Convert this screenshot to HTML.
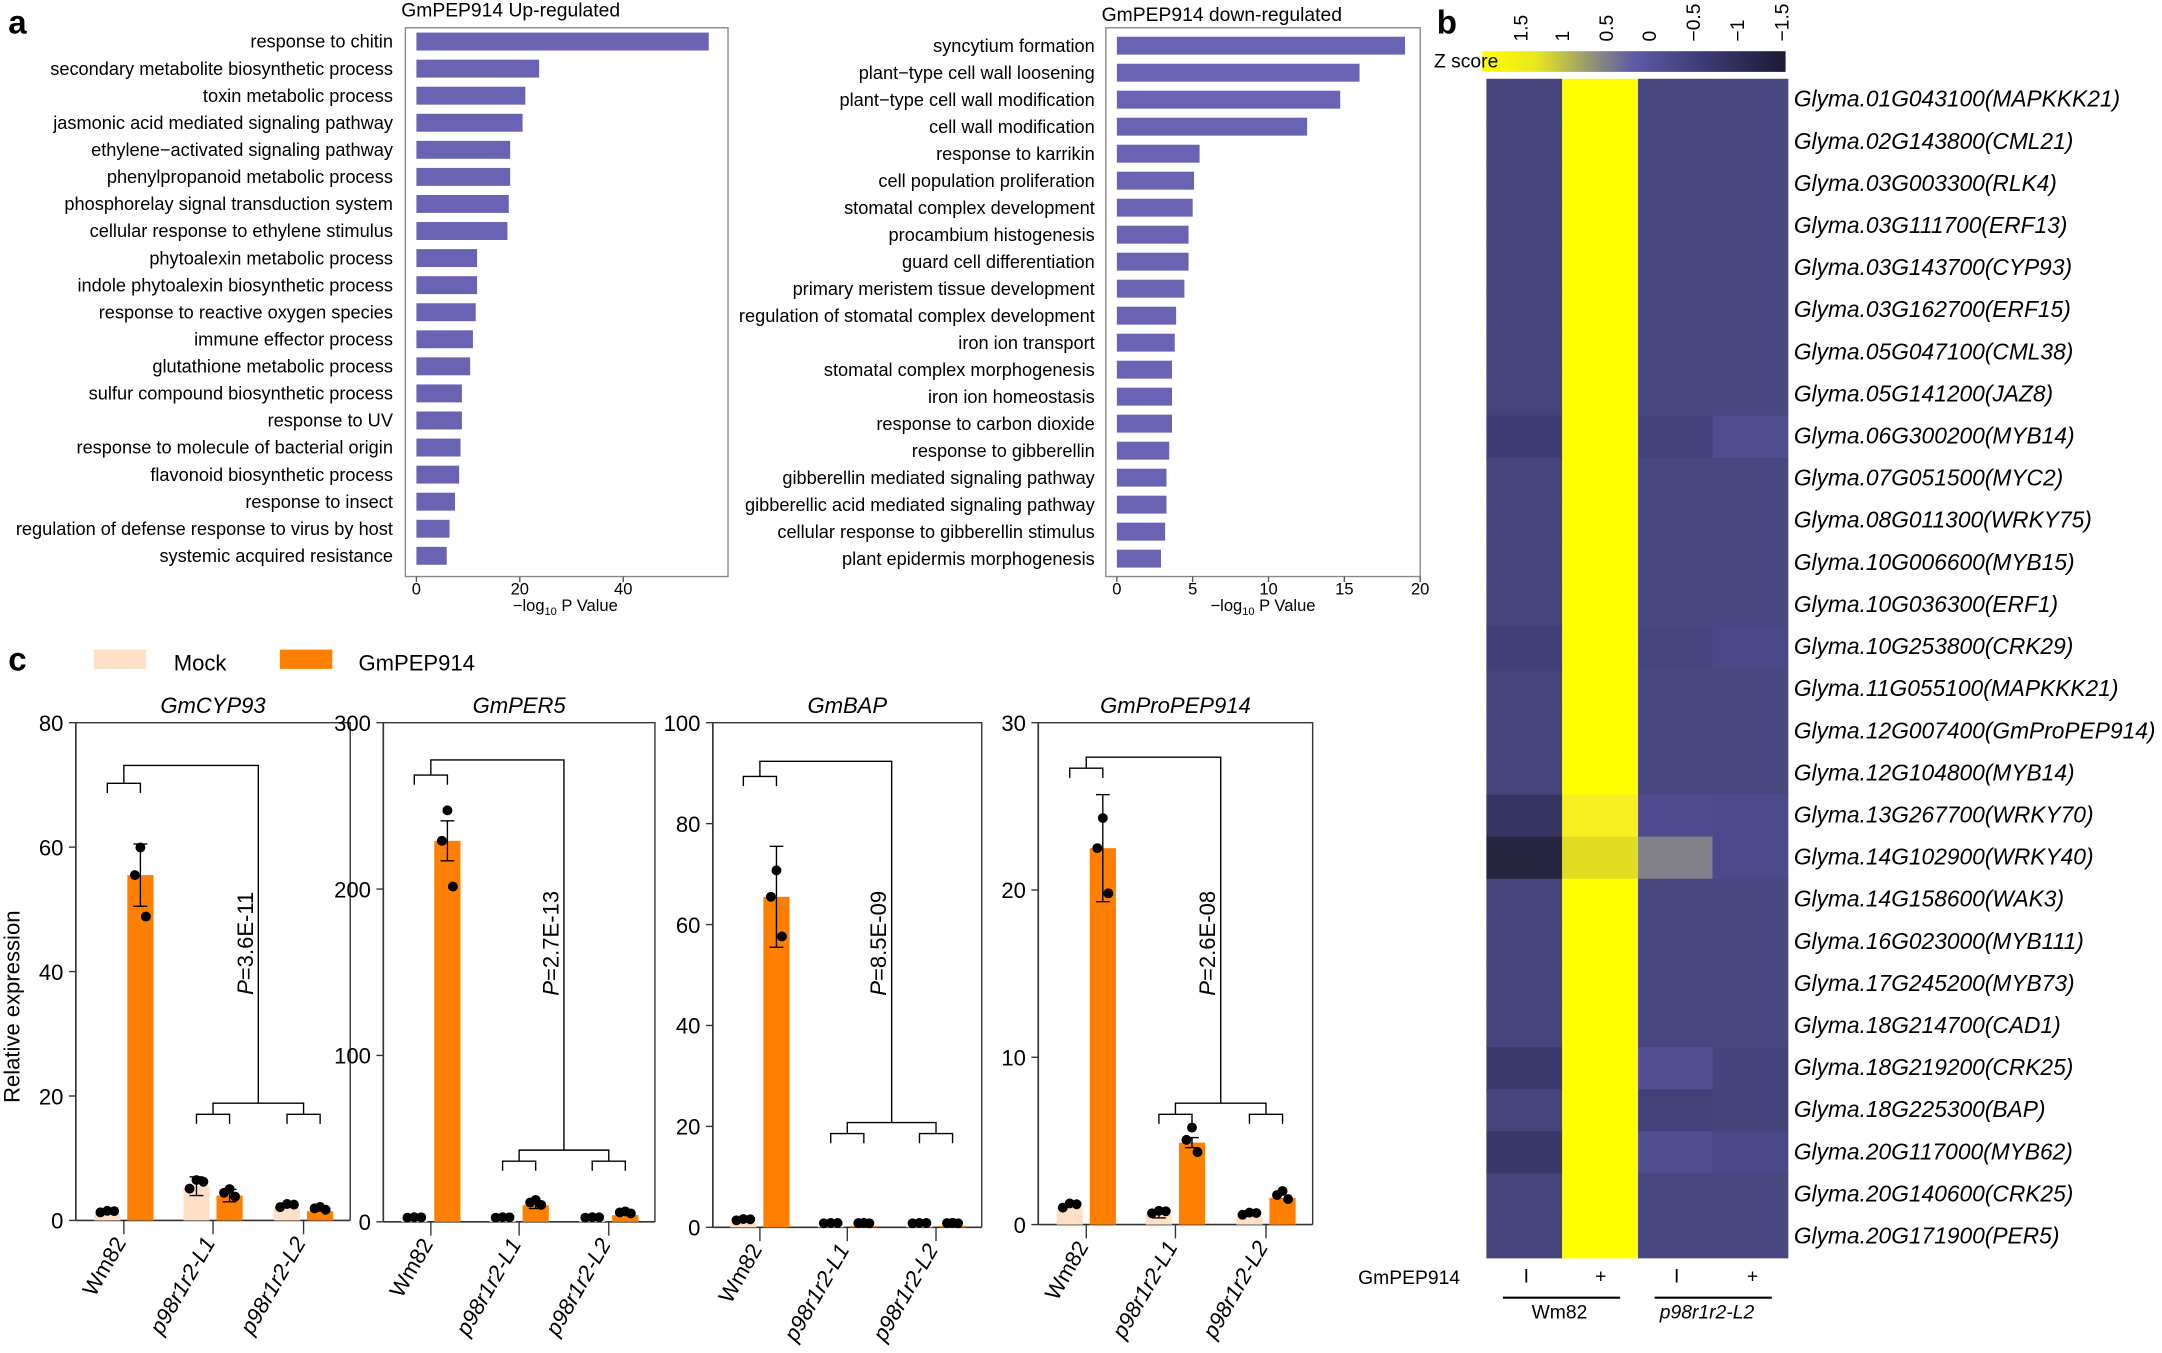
<!DOCTYPE html>
<html><head><meta charset="utf-8"><style>
html,body{margin:0;padding:0;background:#fff}
svg{display:block}
text{font-family:"Liberation Sans",Arial,sans-serif;fill:#000}
</style></head><body>
<svg id="s" width="2162" height="1353" viewBox="0 0 1568 981" xmlns="http://www.w3.org/2000/svg"></svg>
<script>
const s=document.getElementById('s');let h='';
function T(x,y,t,o){o=o||{};h+=`<text x="${x}" y="${y}" font-size="${o.fs||13}" text-anchor="${o.a||'start'}" ${o.it?'font-style="italic"':''} ${o.b?'font-weight="bold"':''} ${o.tr?`transform="${o.tr}"`:''}>${t}</text>`;}
function R(x,y,w,hh,c,st){h+=`<rect x="${x}" y="${y}" width="${w}" height="${hh}" fill="${c}" ${st||''}/>`;}
function L(x1,y1,x2,y2,c,w){h+=`<line x1="${x1}" y1="${y1}" x2="${x2}" y2="${y2}" stroke="${c||'#000'}" stroke-width="${w||1}"/>`;}
T(6,24,'a',{fs:24,b:1});T(1042,24,'b',{fs:24,b:1});T(6,486,'c',{fs:24,b:1});
const BC='#6a62b2';
const up=['response to chitin','secondary metabolite biosynthetic process','toxin metabolic process','jasmonic acid mediated signaling pathway','ethylene−activated signaling pathway','phenylpropanoid metabolic process','phosphorelay signal transduction system','cellular response to ethylene stimulus','phytoalexin metabolic process','indole phytoalexin biosynthetic process','response to reactive oxygen species','immune effector process','glutathione metabolic process','sulfur compound biosynthetic process','response to UV','response to molecule of bacterial origin','flavonoid biosynthetic process','response to insect','regulation of defense response to virus by host','systemic acquired resistance'];
const upE=[514,391,381,379,370,370,369,368,346,346,345,343,341,335,335,334,333,330,326,324];
T(291,12,'GmPEP914 Up-regulated',{fs:14});
R(294,20,234,398,'none','stroke="#888" stroke-width="1"');
up.forEach((t,i)=>{const y=30+i*19.63;R(302,y-6.5,upE[i]-302,13,BC);T(285,y+4.5,t,{fs:13.2,a:'end'});});
[[302,'0'],[377,'20'],[452,'40']].forEach(([x,t])=>{L(x,418,x,422,'#555');T(x,431,t,{fs:12,a:'middle'});});
T(410,443,'−log<tspan font-size="8" dy="3">10</tspan><tspan dy="-3"> P Value</tspan>',{fs:12,a:'middle'});
const dn=['syncytium formation','plant−type cell wall loosening','plant−type cell wall modification','cell wall modification','response to karrikin','cell population proliferation','stomatal complex development','procambium histogenesis','guard cell differentiation','primary meristem tissue development','regulation of stomatal complex development','iron ion transport','stomatal complex morphogenesis','iron ion homeostasis','response to carbon dioxide','response to gibberellin','gibberellin mediated signaling pathway','gibberellic acid mediated signaling pathway','cellular response to gibberellin stimulus','plant epidermis morphogenesis'];
const dnE=[1019,986,972,948,870,866,865,862,862,859,853,852,850,850,850,848,846,846,845,842];
T(799,15,'GmPEP914 down-regulated',{fs:14});
R(802,20,228,398,'none','stroke="#888" stroke-width="1"');
dn.forEach((t,i)=>{const y=33+i*19.58;R(810,y-6.5,dnE[i]-810,13,BC);T(794,y+4.5,t,{fs:13.2,a:'end'});});
[0,5,10,15,20].forEach(v=>{const x=810+v*11;L(x,418,x,422,'#555');T(x,431,v,{fs:12,a:'middle'});});
T(916,443,'−log<tspan font-size="8" dy="3">10</tspan><tspan dy="-3"> P Value</tspan>',{fs:12,a:'middle'});
h+=`<defs><linearGradient id="g" x1="0" x2="1"><stop offset="0" stop-color="#ffff00"/><stop offset="0.18" stop-color="#e8e620"/><stop offset="0.38" stop-color="#8a8a80"/><stop offset="0.5" stop-color="#5d5aa8"/><stop offset="0.75" stop-color="#3a3870"/><stop offset="1" stop-color="#1c1a34"/></linearGradient></defs>`;
R(1075,37,220,15,'url(#g)');T(1040,49,'Z score',{fs:14});
[['1.5',1103],['1',1133],['0.5',1165],['0',1196],['−0.5',1228],['−1',1260],['−1.5',1292]].forEach(([t,x])=>T(x+5,30,t,{fs:14,tr:`rotate(-90 ${x+5} 30)`}));
const genes=['01G043100(MAPKKK21)','02G143800(CML21)','03G003300(RLK4)','03G111700(ERF13)','03G143700(CYP93)','03G162700(ERF15)','05G047100(CML38)','05G141200(JAZ8)','06G300200(MYB14)','07G051500(MYC2)','08G011300(WRKY75)','10G006600(MYB15)','10G036300(ERF1)','10G253800(CRK29)','11G055100(MAPKKK21)','12G007400(GmProPEP914)','12G104800(MYB14)','13G267700(WRKY70)','14G102900(WRKY40)','14G158600(WAK3)','16G023000(MYB111)','17G245200(MYB73)','18G214700(CAD1)','18G219200(CRK25)','18G225300(BAP)','20G117000(MYB62)','20G140600(CRK25)','20G171900(PER5)'];
const top0=57,bot0=912;const rh=(bot0-top0)/genes.length;
const sp={'8':['#3e3c74',null,'#43417a','#504d92'],'17':['#363562','#f6f020','#4e4b8e','#4c4a8c'],'18':['#27243f','#e0dc22','#828088','#4c4a8c'],'23':['#3c3a6c',null,'#524f94','#45437c'],'25':['#3a3868',null,'#504d90','#4a4888'],'13':['#42407a',null,'#46447e','#4a4888'],'24':['#46447c',null,'#43417a','#45437c']};
genes.forEach((g,i)=>{const y=top0+i*rh;const c=sp[i]||['#45447c',null,'#474680','#48477f'];
R(1078,y,55,rh+0.5,c[0]);R(1133,y,55,rh+0.5,c[1]||'#ffff00');R(1188,y,54,rh+0.5,c[2]);R(1242,y,55,rh+0.5,c[3]);
T(1301,y+rh/2+5,'Glyma.'+g,{fs:16.5,it:1});});
T(985,931,'GmPEP914',{fs:14});
[[1107,'I'],[1161,'+'],[1216,'I'],[1271,'+']].forEach(([x,t])=>T(x,930,t,{fs:14,a:'middle'}));
L(1090,941,1175,941,'#000',1.5);L(1200,941,1285,941,'#000',1.5);
T(1131,956,'Wm82',{fs:14,a:'middle'});T(1238,956,'p98r1r2-L2',{fs:14,a:'middle',it:1});
R(68,471,38,14,'#fde0c5');T(126,486,'Mock',{fs:16});R(203,471,38,14,'#ff7f00');T(260,486,'GmPEP914',{fs:16});
T(14,730,'Relative expression',{fs:16,a:'middle',tr:'rotate(-90 14 730)'});
const plots=[
 {ax:55,r:254,y0:885,top:524,max:80,ticks:[0,20,40,60,80],t:'GmCYP93',v:[[1,55.5],[5.5,4],[2,1.5]],err:[[0,5],[1.5,1]],p:'3.6E-11',b1:568,b0:555,b2:808,b3:800},
 {ax:278,r:475,y0:886,top:524,max:300,ticks:[0,100,200,300],t:'GmPER5',v:[[1,229],[1,10],[1,4]],err:[[0,12],[0,2]],p:'2.7E-13',b1:562,b0:551,b2:842,b3:834},
 {ax:517,r:712,y0:890,top:524,max:100,ticks:[0,20,40,60,80,100],t:'GmBAP',v:[[1,65.5],[0.3,0.3],[0.3,0.3]],err:[[0,10],[0,0]],p:'8.5E-09',b1:563,b0:552,b2:822,b3:814},
 {ax:753,r:952,y0:888,top:524,max:30,ticks:[0,10,20,30],t:'GmProPEP914',v:[[1,22.5],[0.6,4.9],[0.5,1.6]],err:[[0,3.2],[0.2,0.3]],p:'2.6E-08',b1:557,b0:549,b2:808,b3:800}];
plots.forEach(P=>{const {ax,r,y0,top,max}=P;const sc=(y0-top)/max;
 h+=`<path d="M${ax} ${top}H${r}V${y0}" fill="none" stroke="#333" stroke-width="1"/>`;L(ax,top,ax,y0,'#333',1.2);L(ax,y0,r,y0,'#333',1.2);
 P.ticks.forEach(v=>{const y=y0-v*sc;L(ax-5,y,ax,y,'#333');T(ax-9,y+6,v,{fs:16,a:'end'});});
 T((ax+r)/2,517,P.t,{fs:16,it:1,a:'middle'});
 const w=(r-ax);const gx=[ax+w*0.175,ax+w*0.5,ax+w*0.83];const bw=19;
 const names=['Wm82','p98r1r2-L1','p98r1r2-L2'];
 gx.forEach((cx,gi)=>{const [m,o]=P.v[gi];const mx=cx-12,ox=cx+12;
  R(mx-bw/2,y0-m*sc,bw,m*sc,'#fde0c5');R(ox-bw/2,y0-o*sc,bw,o*sc,'#ff7f00');
  const e=P.err[gi]||[0,0];
  if(e[1]>0){const yt=y0-(o+e[1])*sc,yb=y0-Math.max(o-e[1],0)*sc;L(ox,yt,ox,yb);L(ox-5,yt,ox+5,yt);L(ox-5,yb,ox+5,yb);}
  if(e[0]>0){const yt=y0-(m+e[0])*sc,yb=y0-(m-e[0])*sc;L(mx,yt,mx,yb);L(mx-5,yt,mx+5,yt);L(mx-5,yb,mx+5,yb);}
  const dm=[-5,0,5],dv=[0.85,1.1,1.05];
  dm.forEach((d,k)=>{h+=`<circle cx="${mx+d}" cy="${y0-m*dv[k]*sc-2}" r="3.6" fill="#000"/>`;});
  const dvo=gi==0?[1.08,1.0,0.88]:[1.15,1.0,0.85];
  [0,-4,4].forEach((d,k)=>{h+=`<circle cx="${ox+d}" cy="${y0-o*dvo[k]*sc-(gi?2:0)}" r="3.6" fill="#000"/>`;});
  L(cx,y0,cx,y0+10,'#333');
  const tx=cx+2,ty=y0+16;T(tx,ty,names[gi],{fs:16,a:'end',it:gi>0,tr:`rotate(-60 ${tx} ${ty})`});
  const by=gi==0?P.b1:P.b2;h+=`<path d="M${mx} ${by+7}V${by}H${ox}V${by+7}M${cx} ${by}V${by-6}" fill="none" stroke="#000"/>`;
 });
 const mid=(gx[1]+gx[2])/2;
 h+=`<path d="M${gx[1]} ${P.b2-6}V${P.b3}H${gx[2]}V${P.b2-6}M${mid} ${P.b3}V${P.b0}H${gx[0]}V${P.b1-6}" fill="none" stroke="#000"/>`;
 T(mid-10,690,'<tspan font-style="italic">P</tspan>='+P.p,{fs:16,a:'middle',tr:`rotate(-90 ${mid-10} 684)`});
});
s.innerHTML=h;
</script>
</body></html>
